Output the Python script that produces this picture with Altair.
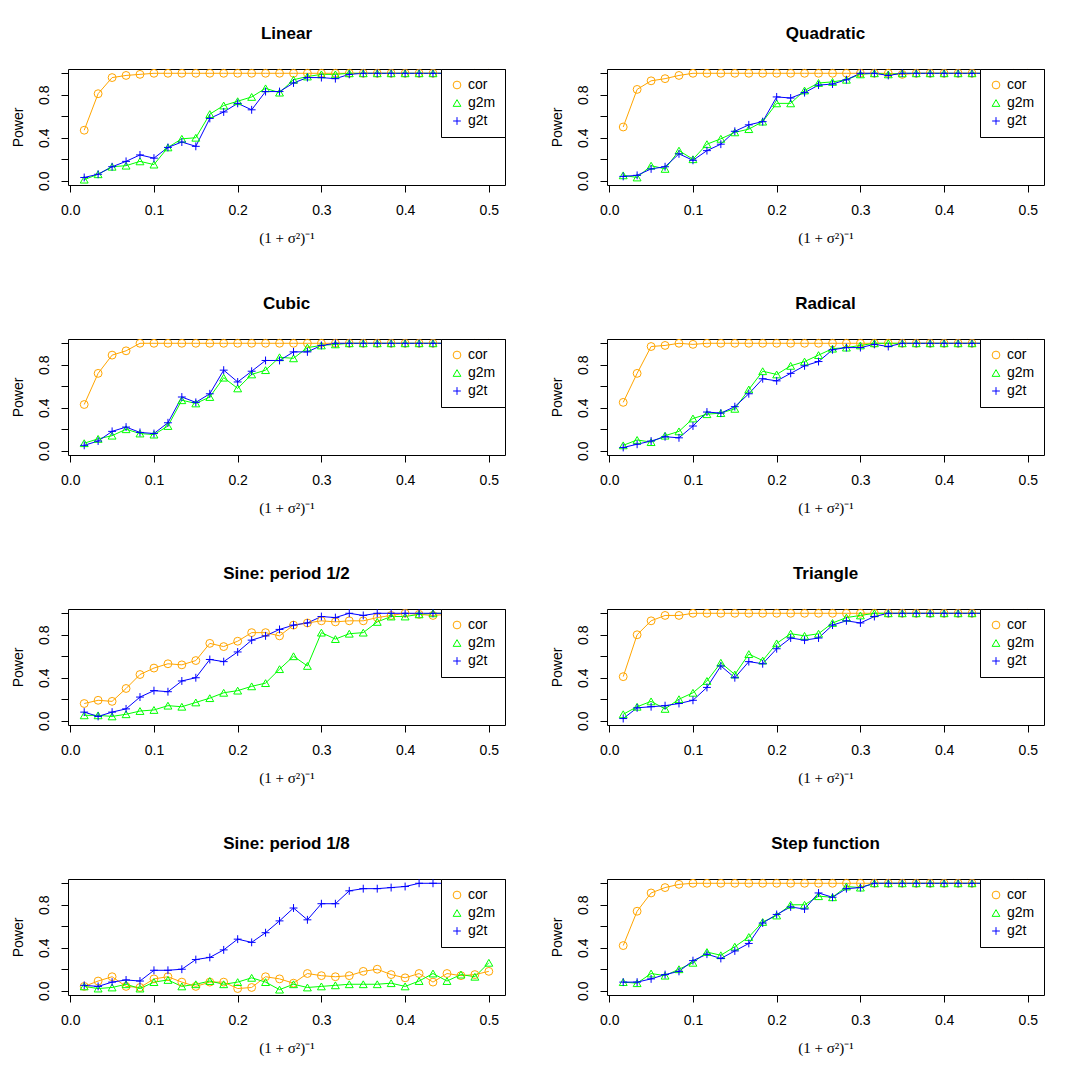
import altair as alt
import pandas as pd

# noise level (1+sigma^2)^-1 at which power was evaluated
x_vals = [0.0167, 0.0333, 0.05, 0.0667, 0.0833, 0.1, 0.1167, 0.1333, 0.15, 0.1667,
          0.1833, 0.2, 0.2167, 0.2333, 0.25, 0.2667, 0.2833, 0.3, 0.3167, 0.3333,
          0.35, 0.3667, 0.3833, 0.4, 0.4167, 0.4333, 0.45, 0.4667, 0.4833, 0.5]

series_names = ["cor", "g2m", "g2t"]
series_colors = ["#FFA500", "#00FF00", "#0000FF"]
series_shapes = ["circle", "triangle-up", "M-1,0H1M0,-1V1"]

panel_titles = ["Linear", "Quadratic", "Cubic", "Radical",
                "Sine: period 1/2", "Triangle", "Sine: period 1/8", "Step function"]

linear_cor = [0.47, 0.81, 0.96, 0.98, 0.99, 1.0, 1.0, 1.0, 1.0, 1.0, 1.0, 1.0, 1.0, 1.0, 1.0,
              1.0, 1.0, 1.0, 1.0, 1.0, 1.0, 1.0, 1.0, 1.0, 1.0, 1.0, 1.0, 1.0, 1.0, 1.0]
linear_g2m = [0.01, 0.06, 0.13, 0.14, 0.18, 0.15, 0.31, 0.39, 0.40, 0.62, 0.70, 0.74, 0.78, 0.86, 0.82,
              0.94, 0.97, 0.99, 0.99, 1.0, 1.0, 1.0, 1.0, 1.0, 1.0, 1.0, 1.0, 1.0, 1.0, 1.0]
linear_g2t = [0.03, 0.06, 0.13, 0.18, 0.24, 0.21, 0.31, 0.36, 0.32, 0.58, 0.64, 0.72, 0.66, 0.83, 0.83,
              0.91, 0.96, 0.96, 0.95, 0.99, 1.0, 1.0, 1.0, 1.0, 1.0, 1.0, 1.0, 1.0, 1.0, 1.0]

quad_cor = [0.50, 0.85, 0.93, 0.95, 0.98, 1.0, 1.0, 1.0, 1.0, 1.0, 1.0, 1.0, 1.0, 1.0, 1.0,
            1.0, 1.0, 1.0, 1.0, 1.0, 0.99, 1.0, 1.0, 1.0, 1.0, 1.0, 1.0, 1.0, 1.0, 1.0]
quad_g2m = [0.05, 0.03, 0.14, 0.11, 0.28, 0.20, 0.34, 0.39, 0.45, 0.48, 0.55, 0.72, 0.72, 0.84, 0.91,
            0.92, 0.94, 0.99, 1.0, 0.99, 1.0, 1.0, 1.0, 1.0, 1.0, 1.0, 1.0, 1.0, 1.0, 1.0]
quad_g2t = [0.04, 0.05, 0.11, 0.13, 0.25, 0.19, 0.28, 0.34, 0.46, 0.52, 0.55, 0.78, 0.77, 0.82, 0.89,
            0.90, 0.94, 1.0, 1.0, 0.98, 1.0, 1.0, 1.0, 1.0, 1.0, 1.0, 1.0, 1.0, 1.0, 1.0]

cubic_cor = [0.43, 0.72, 0.89, 0.93, 1.0, 1.0, 1.0, 1.0, 1.0, 1.0, 1.0, 1.0, 1.0, 1.0, 1.0,
             1.0, 1.0, 1.0, 1.0, 1.0, 1.0, 1.0, 1.0, 1.0, 1.0, 1.0, 1.0, 1.0, 1.0, 1.0]
cubic_g2m = [0.07, 0.11, 0.14, 0.20, 0.16, 0.15, 0.23, 0.47, 0.44, 0.50, 0.68, 0.58, 0.71, 0.75, 0.87,
             0.86, 0.96, 0.98, 0.99, 1.0, 1.0, 1.0, 1.0, 1.0, 1.0, 1.0, 1.0, 1.0, 1.0, 1.0]
cubic_g2t = [0.05, 0.09, 0.18, 0.22, 0.17, 0.16, 0.26, 0.50, 0.45, 0.53, 0.75, 0.64, 0.74, 0.84, 0.84,
             0.92, 0.92, 0.98, 1.0, 1.0, 1.0, 1.0, 1.0, 1.0, 1.0, 1.0, 1.0, 1.0, 1.0, 1.0]

radical_cor = [0.45, 0.72, 0.97, 0.98, 1.0, 0.99, 1.0, 1.0, 1.0, 1.0, 1.0, 1.0, 1.0, 1.0, 1.0,
               1.0, 1.0, 1.0, 1.0, 1.0, 1.0, 1.0, 1.0, 1.0, 1.0, 1.0, 1.0, 1.0, 1.0, 1.0]
radical_g2m = [0.05, 0.10, 0.08, 0.14, 0.18, 0.30, 0.34, 0.35, 0.39, 0.57, 0.74, 0.71, 0.79, 0.83, 0.89,
               0.95, 0.96, 0.98, 1.0, 1.0, 1.0, 1.0, 1.0, 1.0, 1.0, 1.0, 1.0, 1.0, 1.0, 1.0]
radical_g2t = [0.03, 0.06, 0.09, 0.13, 0.12, 0.23, 0.36, 0.35, 0.41, 0.53, 0.67, 0.65, 0.72, 0.79, 0.83,
               0.94, 0.96, 0.96, 0.99, 0.97, 1.0, 1.0, 1.0, 1.0, 1.0, 1.0, 1.0, 1.0, 1.0, 1.0]

sine2_cor = [0.16, 0.19, 0.18, 0.30, 0.43, 0.49, 0.53, 0.52, 0.56, 0.72, 0.69, 0.74, 0.82, 0.82, 0.79,
             0.89, 0.91, 0.93, 0.92, 0.93, 0.93, 0.96, 0.98, 1.0, 0.99, 0.98, 0.99, 0.98, 0.98, 0.99]
sine2_g2m = [0.05, 0.05, 0.04, 0.06, 0.09, 0.10, 0.14, 0.13, 0.17, 0.21, 0.26, 0.28, 0.32, 0.35, 0.48,
             0.60, 0.51, 0.82, 0.76, 0.81, 0.82, 0.92, 0.97, 0.97, 0.99, 1.0, 1.0, 1.0, 1.0, 1.0]
sine2_g2t = [0.08, 0.04, 0.08, 0.11, 0.22, 0.28, 0.27, 0.37, 0.40, 0.57, 0.55, 0.64, 0.75, 0.79, 0.85,
             0.89, 0.91, 0.97, 0.96, 1.0, 0.98, 1.0, 1.0, 1.0, 1.0, 1.0, 1.0, 1.0, 1.0, 1.0]

triangle_cor = [0.41, 0.80, 0.93, 0.98, 0.98, 1.0, 1.0, 1.0, 1.0, 1.0, 1.0, 1.0, 1.0, 1.0, 1.0,
                1.0, 1.0, 1.0, 1.0, 1.0, 1.0, 1.0, 1.0, 1.0, 1.0, 1.0, 1.0, 1.0, 1.0, 1.0]
triangle_g2m = [0.06, 0.13, 0.18, 0.11, 0.20, 0.26, 0.37, 0.54, 0.43, 0.62, 0.56, 0.72, 0.81, 0.79, 0.81,
                0.91, 0.96, 0.98, 1.0, 1.0, 1.0, 1.0, 1.0, 1.0, 1.0, 1.0, 1.0, 1.0, 1.0, 1.0]
triangle_g2t = [0.02, 0.12, 0.13, 0.14, 0.16, 0.19, 0.31, 0.51, 0.40, 0.55, 0.53, 0.67, 0.77, 0.75, 0.77,
                0.89, 0.93, 0.91, 0.97, 1.0, 1.0, 1.0, 1.0, 1.0, 1.0, 1.0, 1.0, 1.0, 1.0, 1.0]

sine8_cor = [0.04, 0.09, 0.13, 0.04, 0.03, 0.11, 0.13, 0.08, 0.04, 0.08, 0.08, 0.02, 0.03, 0.13, 0.11,
             0.07, 0.16, 0.14, 0.13, 0.14, 0.18, 0.20, 0.15, 0.12, 0.16, 0.08, 0.16, 0.14, 0.15, 0.18]
sine8_g2m = [0.04, 0.02, 0.03, 0.06, 0.02, 0.08, 0.10, 0.04, 0.06, 0.09, 0.06, 0.08, 0.12, 0.08, 0.01,
             0.06, 0.03, 0.04, 0.05, 0.06, 0.06, 0.06, 0.07, 0.04, 0.09, 0.16, 0.09, 0.15, 0.13, 0.26]
sine8_g2t = [0.05, 0.04, 0.08, 0.10, 0.09, 0.19, 0.19, 0.20, 0.29, 0.31, 0.38, 0.48, 0.45, 0.54, 0.65,
             0.77, 0.66, 0.81, 0.81, 0.93, 0.95, 0.95, 0.96, 0.97, 1.0, 1.0, 1.0, 1.0, 1.0, 1.0]

step_cor = [0.42, 0.74, 0.91, 0.96, 0.99, 1.0, 1.0, 1.0, 1.0, 1.0, 1.0, 1.0, 1.0, 1.0, 1.0,
            1.0, 1.0, 1.0, 1.0, 1.0, 1.0, 1.0, 1.0, 1.0, 1.0, 1.0, 1.0, 1.0, 1.0, 1.0]
step_g2m = [0.08, 0.07, 0.16, 0.14, 0.20, 0.26, 0.36, 0.33, 0.41, 0.50, 0.64, 0.70, 0.80, 0.80, 0.88,
            0.87, 0.97, 0.96, 1.0, 1.0, 1.0, 1.0, 1.0, 1.0, 1.0, 1.0, 1.0, 1.0, 1.0, 1.0]
step_g2t = [0.08, 0.08, 0.11, 0.15, 0.18, 0.28, 0.34, 0.30, 0.37, 0.44, 0.63, 0.71, 0.78, 0.76, 0.91,
            0.87, 0.95, 0.96, 1.0, 1.0, 1.0, 1.0, 1.0, 1.0, 1.0, 1.0, 1.0, 1.0, 1.0, 1.0]

panel_series = [
    (linear_cor, linear_g2m, linear_g2t),
    (quad_cor, quad_g2m, quad_g2t),
    (cubic_cor, cubic_g2m, cubic_g2t),
    (radical_cor, radical_g2m, radical_g2t),
    (sine2_cor, sine2_g2m, sine2_g2t),
    (triangle_cor, triangle_g2m, triangle_g2t),
    (sine8_cor, sine8_g2m, sine8_g2t),
    (step_cor, step_g2m, step_g2t),
]

FONT = "Liberation Sans"


def legend_params():
    return alt.Legend(orient="top-right", offset=0, title=None,
                      fillColor="white", strokeColor="black",
                      padding=9, labelFontSize=14, labelFont=FONT,
                      labelColor="black", symbolSize=60, labelLimit=28,
                      symbolStrokeWidth=1, rowPadding=4, labelOffset=4)


def panel(title, values):
    rows = []
    for name, vals in zip(series_names, values):
        for x, v in zip(x_vals, vals):
            rows.append({"x": x, "power": v, "series": name})
    df = pd.DataFrame(rows)

    x_enc = alt.X(
        "x:Q",
        scale=alt.Scale(domain=[-0.00267, 0.5193], nice=False, zero=False),
        axis=alt.Axis(values=[0, 0.1, 0.2, 0.3, 0.4, 0.5], format=".1f",
                      title="(1 + σ²)⁻¹", titleFont="Liberation Serif",
                      titleFontWeight="normal", titleFontSize=15,
                      labelPadding=11, titlePadding=13),
    )
    y_enc = alt.Y(
        "power:Q",
        scale=alt.Scale(domain=[-0.04, 1.04], nice=False, zero=False),
        axis=alt.Axis(values=[0, 0.2, 0.4, 0.6, 0.8, 1.0], title="Power",
                      labelExpr="round(datum.value*10) % 4 == 0 ? format(datum.value, '.1f') : ''",
                      labelAngle=270, labelAlign="center", labelBaseline="bottom",
                      labelPadding=10, titlePadding=12, titleFontWeight="normal",
                      titleFont=FONT, titleFontSize=14),
    )

    lines = [
        alt.Chart(df).transform_filter(alt.datum.series == name)
        .mark_line(color=col, strokeWidth=1)
        .encode(x=x_enc, y=y_enc)
        for name, col in zip(series_names, series_colors)
    ]
    points = alt.Chart(df).mark_point(filled=False, strokeWidth=1, opacity=1, size=62).encode(
        x=x_enc, y=y_enc,
        color=alt.Color("series:N", scale=alt.Scale(domain=series_names, range=series_colors),
                        title=None, legend=legend_params()),
        shape=alt.Shape("series:N", scale=alt.Scale(domain=series_names, range=series_shapes),
                        title=None, legend=legend_params()),
    )
    return alt.layer(*lines, points).properties(
        width=437, height=116,
        title=alt.TitleParams(title, font=FONT, fontSize=17, fontWeight="bold",
                              anchor="middle", frame="group", offset=24, color="black"),
    )


panels = [panel(t, v) for t, v in zip(panel_titles, panel_series)]
rows = [alt.hconcat(panels[2 * i], panels[2 * i + 1], spacing=43)
        .resolve_scale(color="independent", shape="independent")
        .resolve_legend(color="independent", shape="independent")
        for i in range(4)]

chart = alt.vconcat(*rows, spacing=48).resolve_scale(
    color="independent", shape="independent"
).resolve_legend(color="independent", shape="independent").properties(
    padding={"left": 2, "top": 16, "right": 0, "bottom": 0},
    background="white",
).configure_view(
    stroke="black", strokeWidth=1, fill="white"
).configure_axis(
    grid=False, domain=False, ticks=True, tickColor="black", tickSize=7, tickWidth=1,
    labelFont=FONT, labelFontSize=14, labelColor="black", titleColor="black",
)

chart.save("out.html", embed_options={"renderer": "svg", "actions": False})
